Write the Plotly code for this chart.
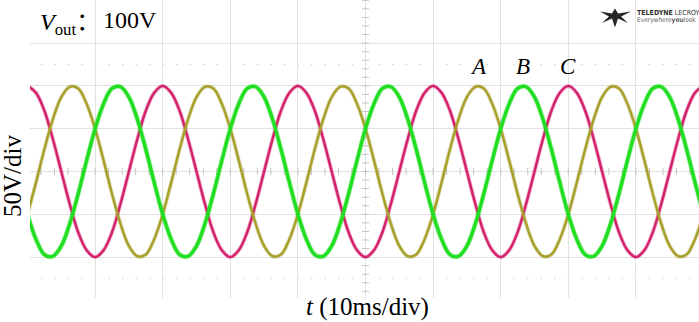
import numpy as np
import plotly.graph_objects as go

# ---- data ----
# one cycle (20 ms, 50 Hz) sampled every 1.25 ms, volts
sample_step_ms = 1.25
cycles = 5
phase_names = ["C", "A", "B"]
phase_colors = ["#d4216c", "#a7a02c", "#22de22"]
phase_widths = [2.4, 2.4, 3.4]
cycle_C = [100, 92, 71, 38, 0, -38, -71, -92, -100, -92, -71, -38, 0, 38, 71, 92]
cycle_A = [-50, -13, 26, 61, 87, 99, 97, 79, 50, 13, -26, -61, -87, -99, -97, -79]
cycle_B = [-50, -79, -97, -99, -87, -61, -26, 13, 50, 79, 97, 99, 87, 61, 26, -13]
label_names = ["A", "B", "C"]
label_t = [66.7, 73.3, 80.0]
label_v = [123, 123, 123]

W, H = 699, 322
ML, MT, MB = 30, 0, 24
PW, PH = W - ML, H - MT - MB


def px(x, y):
    return (x - ML) / PW, (H - MB - y) / PH


fig = go.Figure()

# center-line minor ticks (beneath the waveforms)
fig.add_trace(go.Scatter(x=np.arange(0, 100.1, 2), y=np.zeros(51), mode="markers",
                         marker=dict(symbol="line-ns-open", size=5, color="#c4c4c4",
                                     line=dict(color="#c4c4c4", width=1)),
                         showlegend=False, hoverinfo="skip"))
fig.add_trace(go.Scatter(x=np.full(41, 50.0), y=np.arange(-200, 200.1, 10), mode="markers",
                         marker=dict(symbol="line-ew-open", size=5, color="#c4c4c4",
                                     line=dict(color="#c4c4c4", width=1)),
                         showlegend=False, hoverinfo="skip"))

n = len(cycle_C) * cycles + 1
t = np.arange(n) * sample_step_ms
for name, cyc, col, lw in zip(phase_names, [cycle_C, cycle_A, cycle_B], phase_colors, phase_widths):
    v = np.concatenate([np.tile(cyc, cycles), cyc[:1]])
    fig.add_trace(go.Scatter(x=t, y=v, mode="lines", line=dict(color=col, width=lw + 1.6, shape="spline"),
                             opacity=0.35, showlegend=False, hoverinfo="skip"))
    fig.add_trace(go.Scatter(x=t, y=v, mode="lines", line=dict(color=col, width=lw, shape="spline"),
                             name=name, showlegend=False))

shapes = [
    dict(type="line", xref="x", yref="y", x0=50, x1=50, y0=-200, y1=250,
         line=dict(color="#bdbdbd", width=1, dash="3px,2px"), layer="below"),
    dict(type="line", xref="x", yref="y", x0=0, x1=100, y0=0, y1=0,
         line=dict(color="#d4d4d4", width=1), layer="below"),
    dict(type="line", xref="x", yref="y", x0=0, x1=100, y0=125, y1=125,
         line=dict(color="#cfcfcf", width=1, dash="1.5px,12px"), layer="below"),
    dict(type="line", xref="x", yref="y", x0=0, x1=100, y0=-125, y1=-125,
         line=dict(color="#cfcfcf", width=1, dash="1.5px,12px"), layer="below"),
]

# logo icon
icon_pts = [(600, 11.5), (612, 13.5), (615, 8.5), (618, 13.5), (631, 11.5), (621, 16.5), (628, 23),
            (618, 18.5), (615, 27.5), (612, 18.5), (602, 23), (609, 16.5)]
path = "M " + " L ".join("%.5f,%.5f" % px(a, b) for a, b in icon_pts) + " Z"
shapes.append(dict(type="path", xref="paper", yref="paper", path=path,
                   fillcolor="#262626", line=dict(width=0)))

annotations = []
serif = "Liberation Serif, Times New Roman, serif"
x0, y0 = px(38, 20)
annotations.append(dict(xref="paper", yref="paper", x=x0, y=y0, xanchor="left", yanchor="middle",
                        text="<i>V</i><sub>out</sub><span style=\"font-family:'Noto Sans CJK SC'\">：</span>",
                        showarrow=False, font=dict(family=serif, size=24, color="black")))
x0, y0 = px(101, 20)
annotations.append(dict(xref="paper", yref="paper", x=x0, y=y0, xanchor="left", yanchor="middle",
                        text="100V", showarrow=False, font=dict(family=serif, size=24, color="black")))
x0, y0 = px(12, 176)
annotations.append(dict(xref="paper", yref="paper", x=x0, y=y0, xanchor="center", yanchor="middle",
                        text="50V/div", textangle=-90, showarrow=False,
                        font=dict(family=serif, size=25, color="black")))
x0, y0 = px(367, 307)
annotations.append(dict(xref="paper", yref="paper", x=x0, y=y0, xanchor="center", yanchor="middle",
                        text="<i>t</i> (10ms/div)", showarrow=False,
                        font=dict(family=serif, size=25, color="black")))
for nm, lt, lv in zip(label_names, label_t, label_v):
    annotations.append(dict(xref="x", yref="y", x=lt, y=lv, text="<i>%s</i>" % nm, showarrow=False,
                            xanchor="center", yanchor="middle",
                            font=dict(family=serif, size=23, color="black")))
x0, y0 = px(635, 13)
annotations.append(dict(xref="paper", yref="paper", x=x0, y=y0, xanchor="left", yanchor="middle",
                        text="<b>TELEDYNE</b> LECROY", showarrow=False,
                        font=dict(family="DejaVu Sans Condensed, DejaVu Sans", size=7, color="#303030")))
x0, y0 = px(635, 20)
annotations.append(dict(xref="paper", yref="paper", x=x0, y=y0, xanchor="left", yanchor="middle",
                        text="Everywhere<b>you</b>look", showarrow=False,
                        font=dict(family="DejaVu Sans Condensed, DejaVu Sans", size=6.5, color="#606060")))

t_left = (ML - 27.5) / 6.76
t_right = (W - 27.5) / 6.76
v_top = 171.5 / 0.856
v_bot = -(H - MB - 171.5) / 0.856

fig.update_layout(
    width=W, height=H, margin=dict(l=ML, r=0, t=MT, b=MB),
    paper_bgcolor="white", plot_bgcolor="white",
    xaxis=dict(range=[t_left, t_right], tick0=0, dtick=10, showgrid=True, gridcolor="#e2e2e2",
               gridwidth=1, showticklabels=False, ticks="", zeroline=False, showline=False),
    yaxis=dict(range=[v_bot, v_top], tick0=0, dtick=50, showgrid=True, gridcolor="#e2e2e2",
               gridwidth=1, showticklabels=False, ticks="", zeroline=False, showline=False),
    shapes=shapes, annotations=annotations,
)

fig.write_html("out.html", config={"displayModeBar": False},
               post_script="document.body.style.margin='0';document.body.style.overflow='hidden';")
